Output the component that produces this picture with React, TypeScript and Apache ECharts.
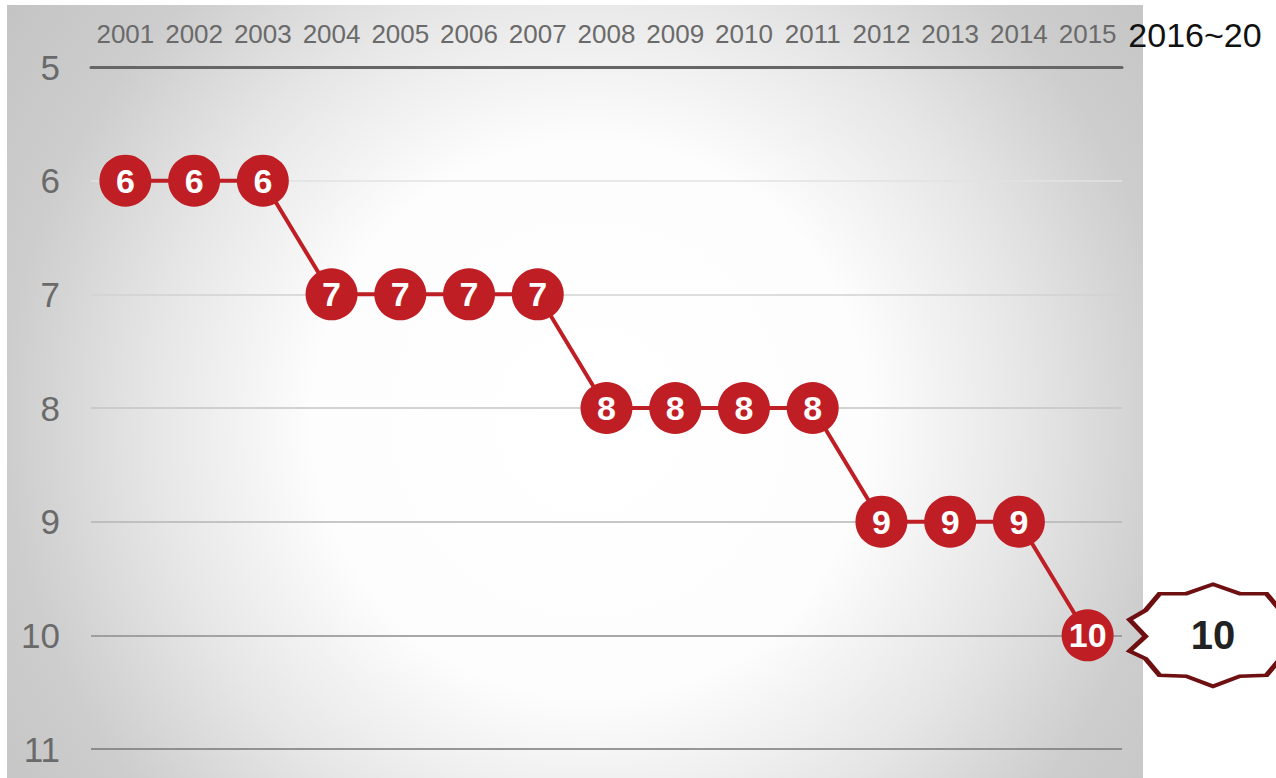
import React, { useEffect, useRef } from "react";
import * as echarts from "echarts";

const years = ["2001", "2002", "2003", "2004", "2005", "2006", "2007", "2008", "2009", "2010", "2011", "2012", "2013", "2014", "2015"];
const ranks = [6, 6, 6, 7, 7, 7, 7, 8, 8, 8, 8, 9, 9, 9, 10];
const forecastCategories = ["2016~20"];
const forecastRanks = [10];
const yMin = 5;
const yMax = 11;
const yInterval = 1;
const gridLineColors = ["#666666", "#e2e2e2", "#d2d2d2", "#c4c4c4", "#b4b4b4", "#8c8c8c", "#777777"];

const badgePath =
  "path://M0,-51 L-26.7,-41.7 L-53.3,-41.7 L-67.3,-25 L-83.3,-15.7 L-67.3,1 L-83.3,15.7 L-67.3,23.3 L-53.3,40 L-26.7,41 L0,51 L26.7,41 L53.3,40 L67.3,23.3 L83.3,15.7 L67.3,1 L83.3,-15.7 L67.3,-25 L53.3,-41.7 L26.7,-41.7 Z";

const FONT = "'Liberation Sans', Arial, sans-serif";
const RED = "#bf1e24";

export default function App() {
  const ref = useRef<HTMLDivElement>(null);
  useEffect(() => {
    if (!ref.current) return;
    const chart = echarts.init(ref.current, undefined, { renderer: "svg" });
    chart.setOption({
      animation: false,
      textStyle: { fontFamily: FONT },
      graphic: [
        {
          type: "rect",
          z: -10,
          silent: true,
          shape: { x: 7, y: 5, width: 1136, height: 790 },
          style: {
            fill: {
              type: "radial",
              x: 590,
              y: 420,
              r: 730,
              global: true,
              colorStops: [
                { offset: 0, color: "#ffffff" },
                { offset: 0.38, color: "#fdfdfd" },
                { offset: 0.6, color: "#e6e6e6" },
                { offset: 0.8, color: "#cdcdcd" },
                { offset: 1, color: "#c3c3c3" },
              ],
            },
          },
        },
      ],
      grid: [
        { left: 91, right: 154, top: 67, bottom: 29, containLabel: false },
        { left: 1150, right: 0, top: 67, bottom: 29, containLabel: false },
      ],
      xAxis: [
        {
          type: "category",
          gridIndex: 0,
          position: "top",
          data: years,
          boundaryGap: true,
          axisLine: { show: true, lineStyle: { color: "#666666", width: 3 } },
          axisTick: { show: false },
          axisLabel: { interval: 0, color: "#6a6a6a", fontSize: 26, margin: 20, fontFamily: FONT },
          splitLine: { show: false },
        },
        {
          type: "category",
          gridIndex: 1,
          position: "top",
          data: forecastCategories,
          boundaryGap: true,
          axisLine: { show: false },
          axisTick: { show: false },
          axisLabel: { interval: 0, color: "#111111", fontSize: 34, margin: 15, padding: [0, 36, 0, 0], fontFamily: FONT },
          splitLine: { show: false },
        },
      ],
      yAxis: [
        {
          type: "value",
          gridIndex: 0,
          inverse: true,
          min: yMin,
          max: yMax,
          interval: yInterval,
          axisLine: { show: false },
          axisTick: { show: false },
          axisLabel: { color: "#6a6a6a", fontSize: 35, margin: 31, fontFamily: FONT },
          splitLine: { show: true, lineStyle: { color: gridLineColors, width: 1.6 } },
        },
        {
          type: "value",
          gridIndex: 1,
          inverse: true,
          min: yMin,
          max: yMax,
          interval: yInterval,
          show: false,
          splitLine: { show: false },
        },
      ],
      series: [
        {
          type: "line",
          xAxisIndex: 0,
          yAxisIndex: 0,
          data: ranks,
          symbol: "circle",
          symbolSize: 52,
          itemStyle: { color: RED, opacity: 1 },
          lineStyle: { color: RED, width: 4 },
          label: {
            show: true,
            position: "inside",
            color: "#ffffff",
            fontWeight: "bold",
            fontSize: 34,
            fontFamily: FONT,
          },
          z: 3,
        },
        {
          type: "scatter",
          xAxisIndex: 1,
          yAxisIndex: 1,
          data: forecastRanks,
          symbol: badgePath,
          symbolSize: [167, 102],
          itemStyle: { color: "#ffffff", borderColor: "#6e0f12", borderWidth: 4.5, opacity: 1 },
          label: {
            show: true,
            position: "inside",
            color: "#222222",
            fontWeight: "bold",
            fontSize: 40,
            fontFamily: FONT,
          },
          z: 3,
        },
      ],
    });
    return () => chart.dispose();
  }, []);
  return (
    <div
      ref={ref}
      style={{ position: "absolute", left: 0, top: 0, width: 1276, height: 778, background: "#ffffff" }}
    />
  );
}
